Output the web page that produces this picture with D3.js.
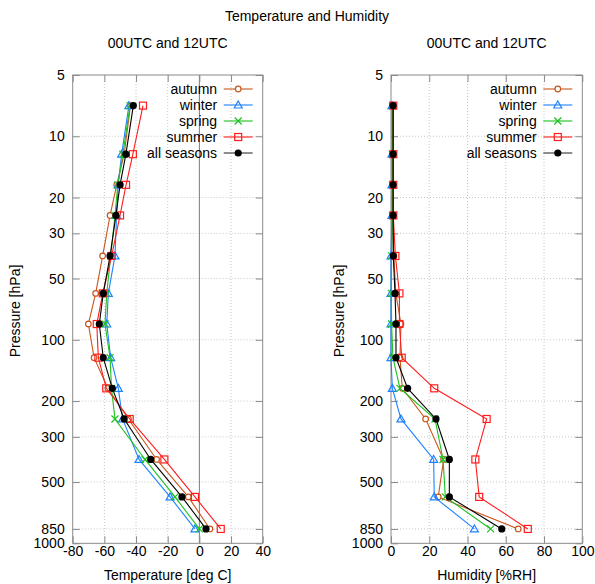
<!DOCTYPE html>
<html><head><meta charset="utf-8">
<script src="https://cdn.jsdelivr.net/npm/d3@7"></script>
<style>
body{margin:0;background:#fff;}
text{font-family:"Liberation Sans",Arial,sans-serif;}
</style></head>
<body><svg id="c" width="595" height="584"></svg>
<script>
// ---- data ----
const levels = [7.07, 12.25, 17.32, 24.49, 38.73, 59.16, 83.67, 122.47, 173.21, 244.95, 387.30, 591.61, 850];
const seasons = ["autumn", "winter", "spring", "summer", "all seasons"];
const tempAutumn = [-43.5, -47.5, -52.2, -56.4, -61.1, -65.5, -70.1, -66.5, -57.8, -44.8, -27.0, -7.0, 6.7];
const tempWinter = [-44.5, -49.1, -51.3, -52.3, -53.3, -57.5, -58.5, -56.0, -51.2, -48.5, -38.1, -18.5, -2.8];
const tempSpring = [-43.8, -48.3, -51.5, -53.3, -56.0, -58.5, -59.6, -56.4, -55.5, -53.3, -34.3, -15.4, 0.0];
const tempSummer = [-35.6, -42.0, -46.3, -50.1, -55.4, -61.0, -64.8, -63.8, -58.8, -44.0, -22.1, -2.8, 13.5];
const tempAll    = [-41.7, -46.4, -50.1, -52.7, -56.4, -60.7, -63.2, -60.7, -55.0, -47.5, -30.7, -11.0, 4.2];
const humAutumn = [1.0, 1.0, 1.0, 1.0, 1.5, 2.5, 5.2, 4.7, 5.9, 18.1, 27.5, 24.7, 66.5];
const humWinter = [0.5, 0.5, 0.5, 0.5, 0.0, 0.0, 0.0, 0.0, 0.7, 5.2, 22.3, 22.6, 43.6];
const humSpring = [0.8, 0.8, 0.8, 0.8, 0.3, 0.2, 0.3, 1.0, 4.7, 23.0, 27.2, 28.4, 52.1];
const humSummer = [1.2, 1.2, 1.2, 1.2, 2.3, 4.4, 4.4, 5.6, 22.6, 50.0, 44.1, 46.1, 71.5];
const humAll    = [1.1, 1.1, 1.1, 1.1, 1.2, 2.1, 2.6, 2.6, 8.7, 23.5, 30.5, 30.5, 57.9];
const pressureTicks = [5, 10, 20, 30, 50, 100, 200, 300, 500, 850, 1000];
const tempTicks = [-80, -60, -40, -20, 0, 20, 40];
const humTicks = [0, 20, 40, 60, 80, 100];

const colors = ["#c8561c", "#1e82ff", "#1ec01e", "#ff1c1c", "#000000"];
const markers = ["circle", "triangle", "cross", "square", "dot"];

const svg = d3.select("#c");
const plotTop = 75, plotBottom = 543.3;
const y = d3.scaleLog().domain([5, 1000]).range([plotTop, plotBottom]);

svg.append("text").attr("x", 307).attr("y", 21).attr("text-anchor", "middle")
  .attr("font-size", 14).text("Temperature and Humidity");

function marker(g, type, cx, cy, col) {
  if (type === "circle") g.append("circle").attr("cx", cx).attr("cy", cy).attr("r", 2.8).attr("fill", "#fff").attr("stroke", col).attr("stroke-width", 1.2);
  else if (type === "triangle") g.append("path").attr("d", `M${cx},${cy-4}L${cx+4},${cy+3}L${cx-4},${cy+3}Z`).attr("fill", "none").attr("stroke", col).attr("stroke-width", 1.2);
  else if (type === "cross") g.append("path").attr("d", `M${cx-3.5},${cy-3.5}L${cx+3.5},${cy+3.5}M${cx-3.5},${cy+3.5}L${cx+3.5},${cy-3.5}`).attr("stroke", col).attr("stroke-width", 1.2);
  else if (type === "square") g.append("rect").attr("x", cx-3.5).attr("y", cy-3.5).attr("width", 7).attr("height", 7).attr("fill", "none").attr("stroke", col).attr("stroke-width", 1.2);
  else g.append("circle").attr("cx", cx).attr("cy", cy).attr("r", 3.6).attr("fill", col);
}

function panel(opts) {
  const x = d3.scaleLinear().domain(opts.domain).range([opts.left, opts.right]);
  const g = svg.append("g");
  const cx = (opts.left + opts.right) / 2;
  svg.append("text").attr("x", cx).attr("y", 48).attr("text-anchor", "middle").attr("font-size", 14).text("00UTC and 12UTC");
  // grid
  const grid = g.append("g").attr("stroke", "#c8c8c8").attr("stroke-dasharray", "1,2").attr("stroke-width", 1);
  opts.xticks.forEach(t => {
    if (t === opts.domain[0] || t === opts.domain[1] || t === 0) return;
    grid.append("line").attr("x1", x(t)).attr("x2", x(t)).attr("y1", plotTop).attr("y2", plotBottom);
  });
  pressureTicks.forEach(t => {
    if (t === 5 || t === 1000) return;
    grid.append("line").attr("x1", opts.left).attr("x2", opts.right).attr("y1", y(t)).attr("y2", y(t));
  });
  if (opts.domain[0] < 0) {
    g.append("line").attr("x1", x(0)).attr("x2", x(0)).attr("y1", plotTop).attr("y2", plotBottom).attr("stroke", "#7a7a7a").attr("stroke-width", 1);
  }
  // axes (ticks inward, mirrored)
  const axc = "#8a8a8a";
  const xb = d3.axisBottom(x).tickValues(opts.xticks).tickSize(-7).tickPadding(3).tickFormat(d => String(d));
  const gx = g.append("g").attr("transform", `translate(0,${plotBottom})`).call(xb);
  const gxt = g.append("g").attr("transform", `translate(0,${plotTop})`).call(d3.axisTop(x).tickValues(opts.xticks).tickSize(-7).tickFormat(""));
  const yl = d3.axisLeft(y).tickValues(pressureTicks).tickSize(-7).tickPadding(8).tickFormat(d => String(d));
  const gy = g.append("g").attr("transform", `translate(${opts.left},0)`).call(yl);
  const gyr = g.append("g").attr("transform", `translate(${opts.right},0)`).call(d3.axisRight(y).tickValues(pressureTicks).tickSize(-7).tickFormat(""));
  [gx, gxt, gy, gyr].forEach(a => {
    a.selectAll("path").remove();
    a.selectAll("line").attr("stroke", axc);
    a.selectAll("text").attr("font-size", 14).attr("fill", "#000").attr("font-family", '"Liberation Sans",Arial,sans-serif');
  });
  g.append("rect").attr("x", opts.left).attr("y", plotTop).attr("width", opts.right - opts.left).attr("height", plotBottom - plotTop)
    .attr("fill", "none").attr("stroke", axc).attr("stroke-width", 1);
  // axis labels
  svg.append("text").attr("x", cx).attr("y", 580).attr("text-anchor", "middle").attr("font-size", 14).text(opts.xlabel);
  svg.append("text").attr("transform", `translate(${opts.ylx},311) rotate(-90)`).attr("text-anchor", "middle").attr("font-size", 14).text("Pressure [hPa]");
  // series
  const line = d3.line().x(d => x(d[0])).y(d => y(d[1]));
  opts.series.forEach((vals, i) => {
    const pts = vals.map((v, k) => [v, levels[k]]);
    const sg = g.append("g");
    sg.append("path").attr("d", line(pts)).attr("fill", "none").attr("stroke", colors[i]).attr("stroke-width", 1.1);
    pts.forEach(p => marker(sg, markers[i], x(p[0]), y(p[1]), colors[i]));
  });
  // legend
  seasons.forEach((s, i) => {
    const ly = plotTop + 14 + 16 * i;
    svg.append("text").attr("x", opts.right - 45.6).attr("y", ly).attr("dy", "0.35em").attr("text-anchor", "end").attr("font-size", 14).text(s);
    svg.append("line").attr("x1", opts.right - 39).attr("x2", opts.right - 10).attr("y1", ly).attr("y2", ly).attr("stroke", colors[i] === "#000000" ? "#333" : colors[i]).attr("stroke-width", 1.1);
    marker(svg, markers[i], opts.right - 24.5, ly, colors[i]);
  });
}

panel({left: 72.7, right: 262.7, domain: [-80, 40], xticks: tempTicks, xlabel: "Temperature [deg C]", ylx: 20,
  series: [tempAutumn, tempWinter, tempSpring, tempSummer, tempAll]});
panel({left: 391, right: 582.3, domain: [0, 100], xticks: humTicks, xlabel: "Humidity [%RH]", ylx: 344,
  series: [humAutumn, humWinter, humSpring, humSummer, humAll]});
</script></body></html>
